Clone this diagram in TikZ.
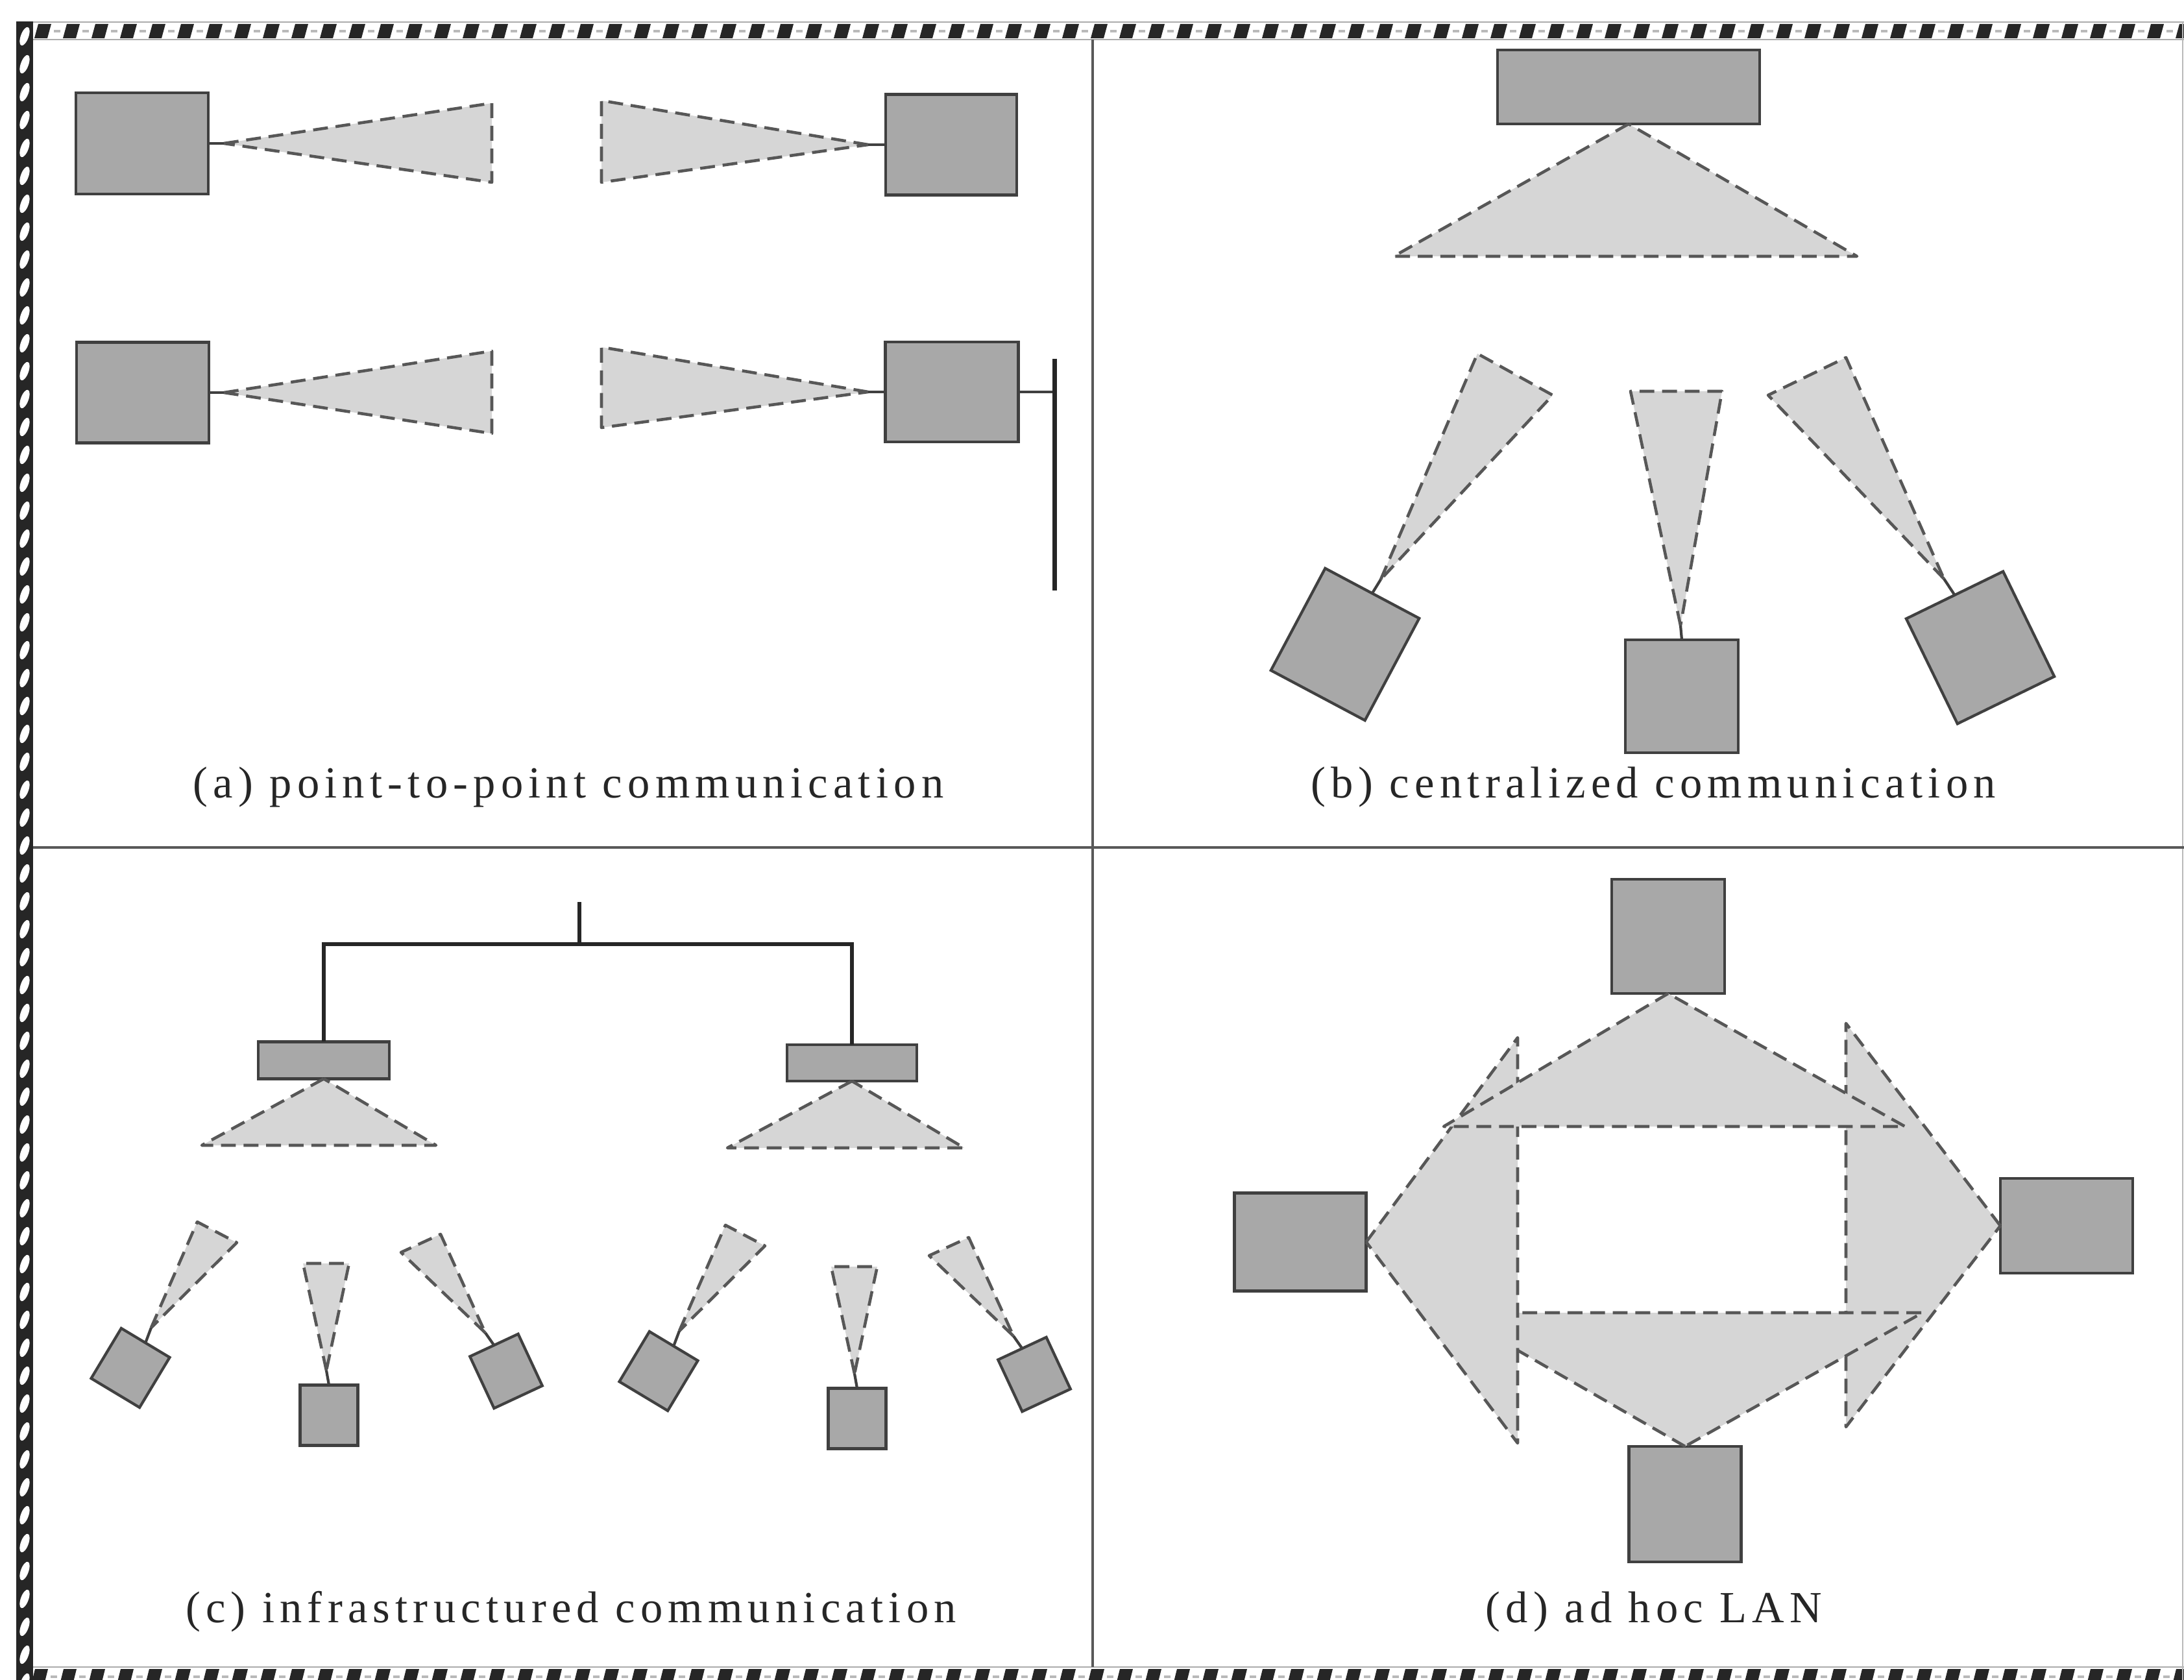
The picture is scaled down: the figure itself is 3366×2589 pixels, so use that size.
\documentclass[tikz,border=0pt]{standalone}
\usepackage{fontspec}
\setmainfont{Liberation Serif}
\newfontfamily\capfont[LetterSpace=12]{Liberation Serif}
\usetikzlibrary{calc}

\definecolor{boxfill}{gray}{0.66}
\definecolor{boxline}{gray}{0.25}
\definecolor{beamfill}{gray}{0.84}
\definecolor{beamline}{gray}{0.34}

\begin{document}
\begin{tikzpicture}[x=0.01cm, y=-0.01cm,
  station/.style={draw=boxline, fill=boxfill, line width=1.2pt, inner sep=0pt, outer sep=0pt},
  beam/.style={draw=beamline, fill=beamfill, line width=1.3pt, dash pattern=on 6.5pt off 3.4pt, line join=round},
  stub/.style={draw=boxline, line width=1.2pt},
  bus/.style={draw=black!85, line width=2pt},
  feeder/.style={draw=black!85, line width=1.5pt},
  rule/.style={draw=black!65, line width=1pt},
  caption/.style={font={\capfont\fontsize{19.5pt}{22pt}\selectfont}, inner sep=0pt, text=black!85},
]
\useasboundingbox (0,0) rectangle (3366,2589);
\fill[white] (0,0) rectangle (3366,2589);

% ---------- hatched frame ----------
\begin{scope}
  \clip (0,0) rectangle (3366,2589);
  % top band
  \draw[gray!65, line width=0.8pt] (40,34) -- (3366,34);
  \draw[gray!65, line width=0.8pt] (40,61) -- (3366,61);
  \foreach \i in {0,...,76} {
    \fill[black!85] ({53+44*\i},59) -- ++(20,0) -- ++(6,-22) -- ++(-20,0) -- cycle;
    \fill[gray!55] ({83+44*\i},46) rectangle ++(10,4);
  }
  % bottom band
  \draw[gray!65, line width=0.8pt] (40,2569) -- (3366,2569);
  \foreach \i in {0,...,76} {
    \fill[black!85] ({48+44*\i},2596) -- ++(20,0) -- ++(6,-24) -- ++(-20,0) -- cycle;
    \fill[gray!55] ({78+44*\i},2582) rectangle ++(10,4);
  }
  % left band: rope pattern
  \fill[black!85] (25,33) rectangle (51,2600);
  \foreach \j in {0,...,59} {
    \pgfmathsetmacro{\yy}{56+43*\j}
    \fill[white, rotate around={-20:(38,\yy)}] (38,\yy) ellipse [x radius=0.06cm, y radius=0.15cm];
  }
  % right edge
  \draw[gray!55, line width=0.6pt] (3364,34) -- (3364,2589);
\end{scope}

% ---------- panel dividers ----------
\coordinate (vtop) at (1684,61);
\coordinate (vbot) at (1684,2569);
\coordinate (hlft) at (51,1306);
\coordinate (hrgt) at (3366,1306);
\draw[rule] (vtop) -- (vbot);
\draw[rule] (hlft) -- (hrgt);

% ---------- (a) point-to-point ----------
\node[station, minimum width=2.04cm, minimum height=1.56cm] (a1) at (219,221) {};
\node[station, minimum width=2.02cm, minimum height=1.55cm] (a2) at (1466,223) {};
\node[station, minimum width=2.04cm, minimum height=1.55cm] (a3) at (220,605) {};
\node[station, minimum width=2.05cm, minimum height=1.54cm] (a4) at (1467,604) {};

\coordinate (a1t) at (345,221);
\coordinate (a2t) at (1338,223);
\coordinate (a3t) at (345,605);
\coordinate (a4t) at (1338,604);
\path[beam] (a1t) -- (758,159) -- (758,281) -- cycle;
\path[beam] (a2t) -- (927,155) -- (927,281) -- cycle;
\path[beam] (a3t) -- (758,541) -- (758,668) -- cycle;
\path[beam] (a4t) -- (927,535) -- (927,659) -- cycle;
\draw[stub] (a1.east) -- (a1t);
\draw[stub] (a2.west) -- (a2t);
\draw[stub] (a3.east) -- (a3t);
\draw[stub] (a4.west) -- (a4t);

\coordinate (a4tap) at (1625,604);
\coordinate (a4bt) at (1625,553);
\coordinate (a4bb) at (1625,910);
\draw[stub] (a4.east) -- (a4tap);
\draw[bus] (a4bt) -- (a4bb);

\node[caption] (capa) at (876,1213) {(a) point-to-point communication};

% ---------- (b) centralized ----------
\node[station, minimum width=4.04cm, minimum height=1.14cm] (bap) at (2510,134) {};
\path[beam] (bap.south) -- (2148,395) -- (2862,395) -- cycle;

\node[station, minimum width=1.64cm, minimum height=1.78cm, rotate=-28] (bs1) at (2073,993) {};
\node[station, minimum width=1.74cm, minimum height=1.74cm] (bs2) at (2592,1073) {};
\node[station, minimum width=1.66cm, minimum height=1.80cm, rotate=26] (bs3) at (3052,998) {};
\coordinate (bs1t) at (2128,893);
\coordinate (bs2t) at (2590,964);
\coordinate (bs3t) at (2996,892);
\path[beam] (bs1t) -- (2277,545) -- (2393,609) -- cycle;
\path[beam] (bs2t) -- (2513,603) -- (2654,603) -- cycle;
\path[beam] (bs3t) -- (2725,609) -- (2845,551) -- cycle;
\draw[stub] (bs1.north) -- (bs1t);
\draw[stub] (bs2.north) -- (bs2t);
\draw[stub] (bs3.north) -- (bs3t);

\node[caption] (capb) at (2548,1213) {(b) centralized communication};

% ---------- (c) infrastructured ----------
\node[station, minimum width=2.02cm, minimum height=0.57cm] (cap1) at (499,1634) {};
\node[station, minimum width=2.00cm, minimum height=0.56cm] (cap2) at (1313,1638) {};
\path[beam] (cap1.south) -- (311,1765) -- (672,1765) -- cycle;
\path[beam] (cap2.south) -- (1121,1769) -- (1486,1769) -- cycle;
\coordinate (cbus) at (893,1455);
\coordinate (cup) at (893,1390);
\draw[feeder] (cap1.north) |- (cbus) -| (cap2.north);
\draw[feeder] (cbus) -- (cup);

\foreach \g/\dx/\dy in {1/0/0, 2/814/5} {
  \begin{scope}[shift={(\dx,\dy)}]
    \node[station, minimum width=0.87cm, minimum height=0.90cm, rotate=-31] (cs\g-l) at (201,2108) {};
    \node[station, minimum width=0.89cm, minimum height=0.93cm] (cs\g-m) at (507,2181) {};
    \node[station, minimum width=0.82cm, minimum height=0.88cm, rotate=25] (cs\g-r) at (780,2113) {};
    \coordinate (cs\g-lt) at (233,2046);
    \coordinate (cs\g-mt) at (503,2112);
    \coordinate (cs\g-rt) at (748,2054);
    \path[beam] (cs\g-lt) -- (304,1883) -- (365,1915) -- cycle;
    \path[beam] (cs\g-mt) -- (467,1947) -- (538,1947) -- cycle;
    \path[beam] (cs\g-rt) -- (618,1930) -- (679,1902) -- cycle;
    \draw[stub] (cs\g-l.north) -- (cs\g-lt);
    \draw[stub] (cs\g-m.north) -- (cs\g-mt);
    \draw[stub] (cs\g-r.north) -- (cs\g-rt);
  \end{scope}
}

\node[caption] (capc) at (880,2484) {(c) infrastructured communication};

% ---------- (d) ad hoc LAN ----------
\node[station, minimum width=1.74cm, minimum height=1.76cm] (dn) at (2571,1443) {};
\node[station, minimum width=2.03cm, minimum height=1.51cm] (dw) at (2004,1914) {};
\node[station, minimum width=2.04cm, minimum height=1.46cm] (de) at (3185,1889) {};
\node[station, minimum width=1.73cm, minimum height=1.78cm] (ds) at (2597,2318) {};
\path[beam] (de.west) -- (2845,1577) -- (2845,2199) -- cycle;
\path[beam] (ds.north) -- (2238,2023) -- (2963,2023) -- cycle;
\path[beam] (dw.east) -- (2339,1599) -- (2339,2224) -- cycle;
\path[beam] (dn.south) -- (2225,1736) -- (2936,1736) -- cycle;

\node[caption] (capd) at (2549,2484) {(d) ad hoc LAN};

\end{tikzpicture}
\end{document}
